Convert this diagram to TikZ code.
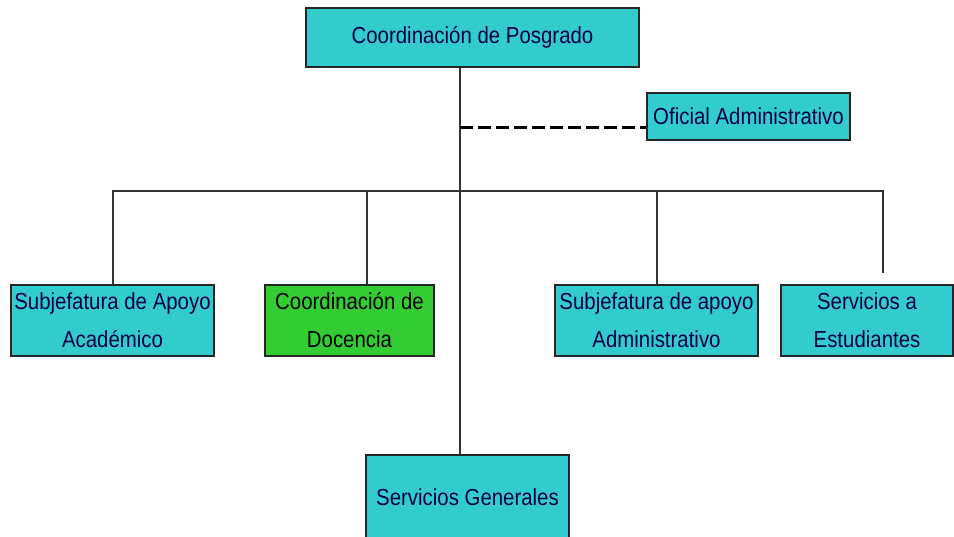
\documentclass[tikz,border=0pt]{standalone}
\usepackage{fontspec}
\setmainfont{Liberation Sans}[FakeStretch=0.88]
\definecolor{turquesa}{RGB}{51,204,204}
\definecolor{verde}{RGB}{51,204,51}
\definecolor{tinta}{RGB}{0,0,70}

\begin{document}
\begin{tikzpicture}[x=1pt,y=-1pt,
  caja/.style={draw=black!85,line width=1.8pt,fill=turquesa,text=tinta,
    font=\fontsize{23.2}{38}\selectfont,align=center,inner sep=0pt},
  linea/.style={black!80,line width=2pt}]

\useasboundingbox (0,0) rectangle (954,537);

% cajas
\node [caja,minimum width=333,minimum height=59] (posgrado) at (472.5,37.5) {Coordinación de Posgrado};
\node [caja,minimum width=203,minimum height=47] (oficial) at (748.5,116.5) {Oficial Administrativo};

\node [caja,minimum width=203,minimum height=71] (academico) at (112.5,320.5) {Subjefatura de Apoyo\\Académico};
\node [caja,fill=verde,text=black,minimum width=169,minimum height=71] (docencia) at (349.5,320.5) {Coordinación de\\Docencia};
\node [caja,minimum width=203,minimum height=71] (administrativo) at (656.5,320.5) {Subjefatura de apoyo\\Administrativo};
\node [caja,minimum width=172,minimum height=71] (estudiantes) at (867,320.5) {Servicios a\\Estudiantes};

\node [caja,minimum width=203,minimum height=90] (generales) at (467.5,500) {\raisebox{6pt}{Servicios Generales}};

% lineas
\coordinate (tronco) at (460,191);
\coordinate (busizq) at (113,191);
\coordinate (busder) at (883,191);
\coordinate (bdoc) at (367,191);
\coordinate (badm) at (657,191);
\coordinate (fin) at (883,273);
\coordinate (guion) at (460,128);

\draw [linea] (tronco |- posgrado.south) -- (tronco |- generales.north);
\draw [linea] (academico.north) |- (busder) -- (fin);
\draw [linea] (bdoc) -- (bdoc |- docencia.north);
\draw [linea] (badm) -- (badm |- administrativo.north);

\draw [black,line width=3pt,dash pattern=on 13pt off 5pt] (guion) -- (guion -| oficial.west);

\end{tikzpicture}
\end{document}
